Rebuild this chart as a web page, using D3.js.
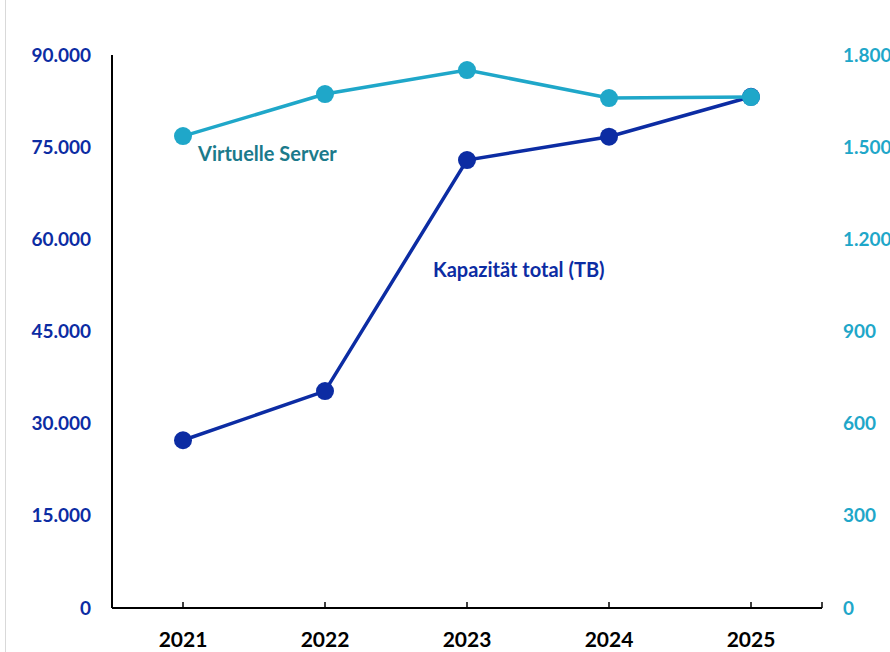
<!DOCTYPE html>
<html>
<head>
<meta charset="utf-8">
<script src="https://cdn.jsdelivr.net/npm/d3@7"></script>
<style>
  body { margin: 0; background: #fff; }
  svg text { font-family: Lato, "Open Sans", sans-serif; font-weight: bold; }
</style>
</head>
<body>
<svg id="chart" width="890" height="652"></svg>
<script>
// data
var years = ["2021", "2022", "2023", "2024", "2025"];
var capacity = [27300, 35300, 72900, 76700, 83200];   // Kapazität total (TB), left axis
var servers = [1536, 1673, 1751, 1660, 1663];         // Virtuelle Server, right axis
var leftTicks = [0, 15000, 30000, 45000, 60000, 75000, 90000];
var rightTicks = [0, 300, 600, 900, 1200, 1500, 1800];

var darkBlue = "#0c2ca3";
var lightBlue = "#1fa7c9";

var svg = d3.select("#chart");
var plotL = 112, plotR = 822, plotT = 55, plotB = 608;

var de = d3.formatLocale({decimal: ",", thousands: ".", grouping: [3], currency: ["", "€"]});
var fmt = de.format(",d");

var x = d3.scaleBand().domain(years).range([plotL, plotR]);
var yL = d3.scaleLinear().domain([0, 90000]).range([plotB, plotT]);
var yR = d3.scaleLinear().domain([0, 1800]).range([plotB, plotT]);

// faint frame line at the very left
svg.append("line").attr("x1", 5.5).attr("x2", 5.5).attr("y1", 0).attr("y2", 652)
    .attr("stroke", "#d9d9d9").attr("stroke-width", 1);

// left axis (line + labels)
svg.append("line").attr("x1", plotL).attr("x2", plotL).attr("y1", plotT).attr("y2", plotB)
    .attr("stroke", "#000").attr("stroke-width", 2);
svg.selectAll(".ltick").data(leftTicks).enter().append("text")
    .attr("x", 91).attr("y", function(d){ return yL(d); })
    .attr("dy", "0.35em").attr("text-anchor", "end")
    .attr("font-size", 19).attr("fill", darkBlue)
    .text(function(d){ return fmt(d); });

// right axis labels (no line)
svg.selectAll(".rtick").data(rightTicks).enter().append("text")
    .attr("x", 843).attr("y", function(d){ return yR(d); })
    .attr("dy", "0.35em").attr("text-anchor", "start")
    .attr("font-size", 19).attr("fill", lightBlue)
    .text(function(d){ return fmt(d); });

// bottom axis with small inward ticks
svg.append("line").attr("x1", plotL).attr("x2", plotR).attr("y1", plotB).attr("y2", plotB)
    .attr("stroke", "#000").attr("stroke-width", 2);
var tickX = years.map(function(d){ return x(d) + x.bandwidth()/2; }).concat([plotR]);
svg.selectAll(".xt").data(tickX).enter().append("line")
    .attr("x1", function(d){ return d; }).attr("x2", function(d){ return d; })
    .attr("y1", plotB).attr("y2", plotB - 6)
    .attr("stroke", "#000").attr("stroke-width", 1.5);
svg.selectAll(".xl").data(years).enter().append("text")
    .attr("x", function(d){ return x(d) + x.bandwidth()/2; }).attr("y", 640)
    .attr("dy", "0.35em").attr("text-anchor", "middle")
    .attr("font-size", 21).attr("fill", "#000")
    .text(function(d){ return d; });

function cx(d, i){ return x(years[i]) + x.bandwidth()/2; }

// Kapazität line
svg.append("path").datum(capacity)
    .attr("d", d3.line().x(cx).y(function(d){ return yL(d); }))
    .attr("fill", "none").attr("stroke", darkBlue).attr("stroke-width", 3.5);
svg.selectAll(".cdot").data(capacity).enter().append("circle")
    .attr("cx", cx).attr("cy", function(d){ return yL(d); })
    .attr("r", 9).attr("fill", darkBlue);

// Virtuelle Server line
svg.append("path").datum(servers)
    .attr("d", d3.line().x(cx).y(function(d){ return yR(d); }))
    .attr("fill", "none").attr("stroke", lightBlue).attr("stroke-width", 3.5);
svg.selectAll(".sdot").data(servers).enter().append("circle")
    .attr("cx", cx).attr("cy", function(d){ return yR(d); })
    .attr("r", 9).attr("fill", lightBlue);

// series labels
svg.append("text").attr("x", 198).attr("y", 154).attr("dy", "0.35em")
    .attr("font-size", 20).attr("fill", "#1b7a8b").text("Virtuelle Server");
svg.append("text").attr("x", 433).attr("y", 270).attr("dy", "0.35em")
    .attr("font-size", 20).attr("fill", darkBlue).text("Kapazität total (TB)");
</script>
</body>
</html>
